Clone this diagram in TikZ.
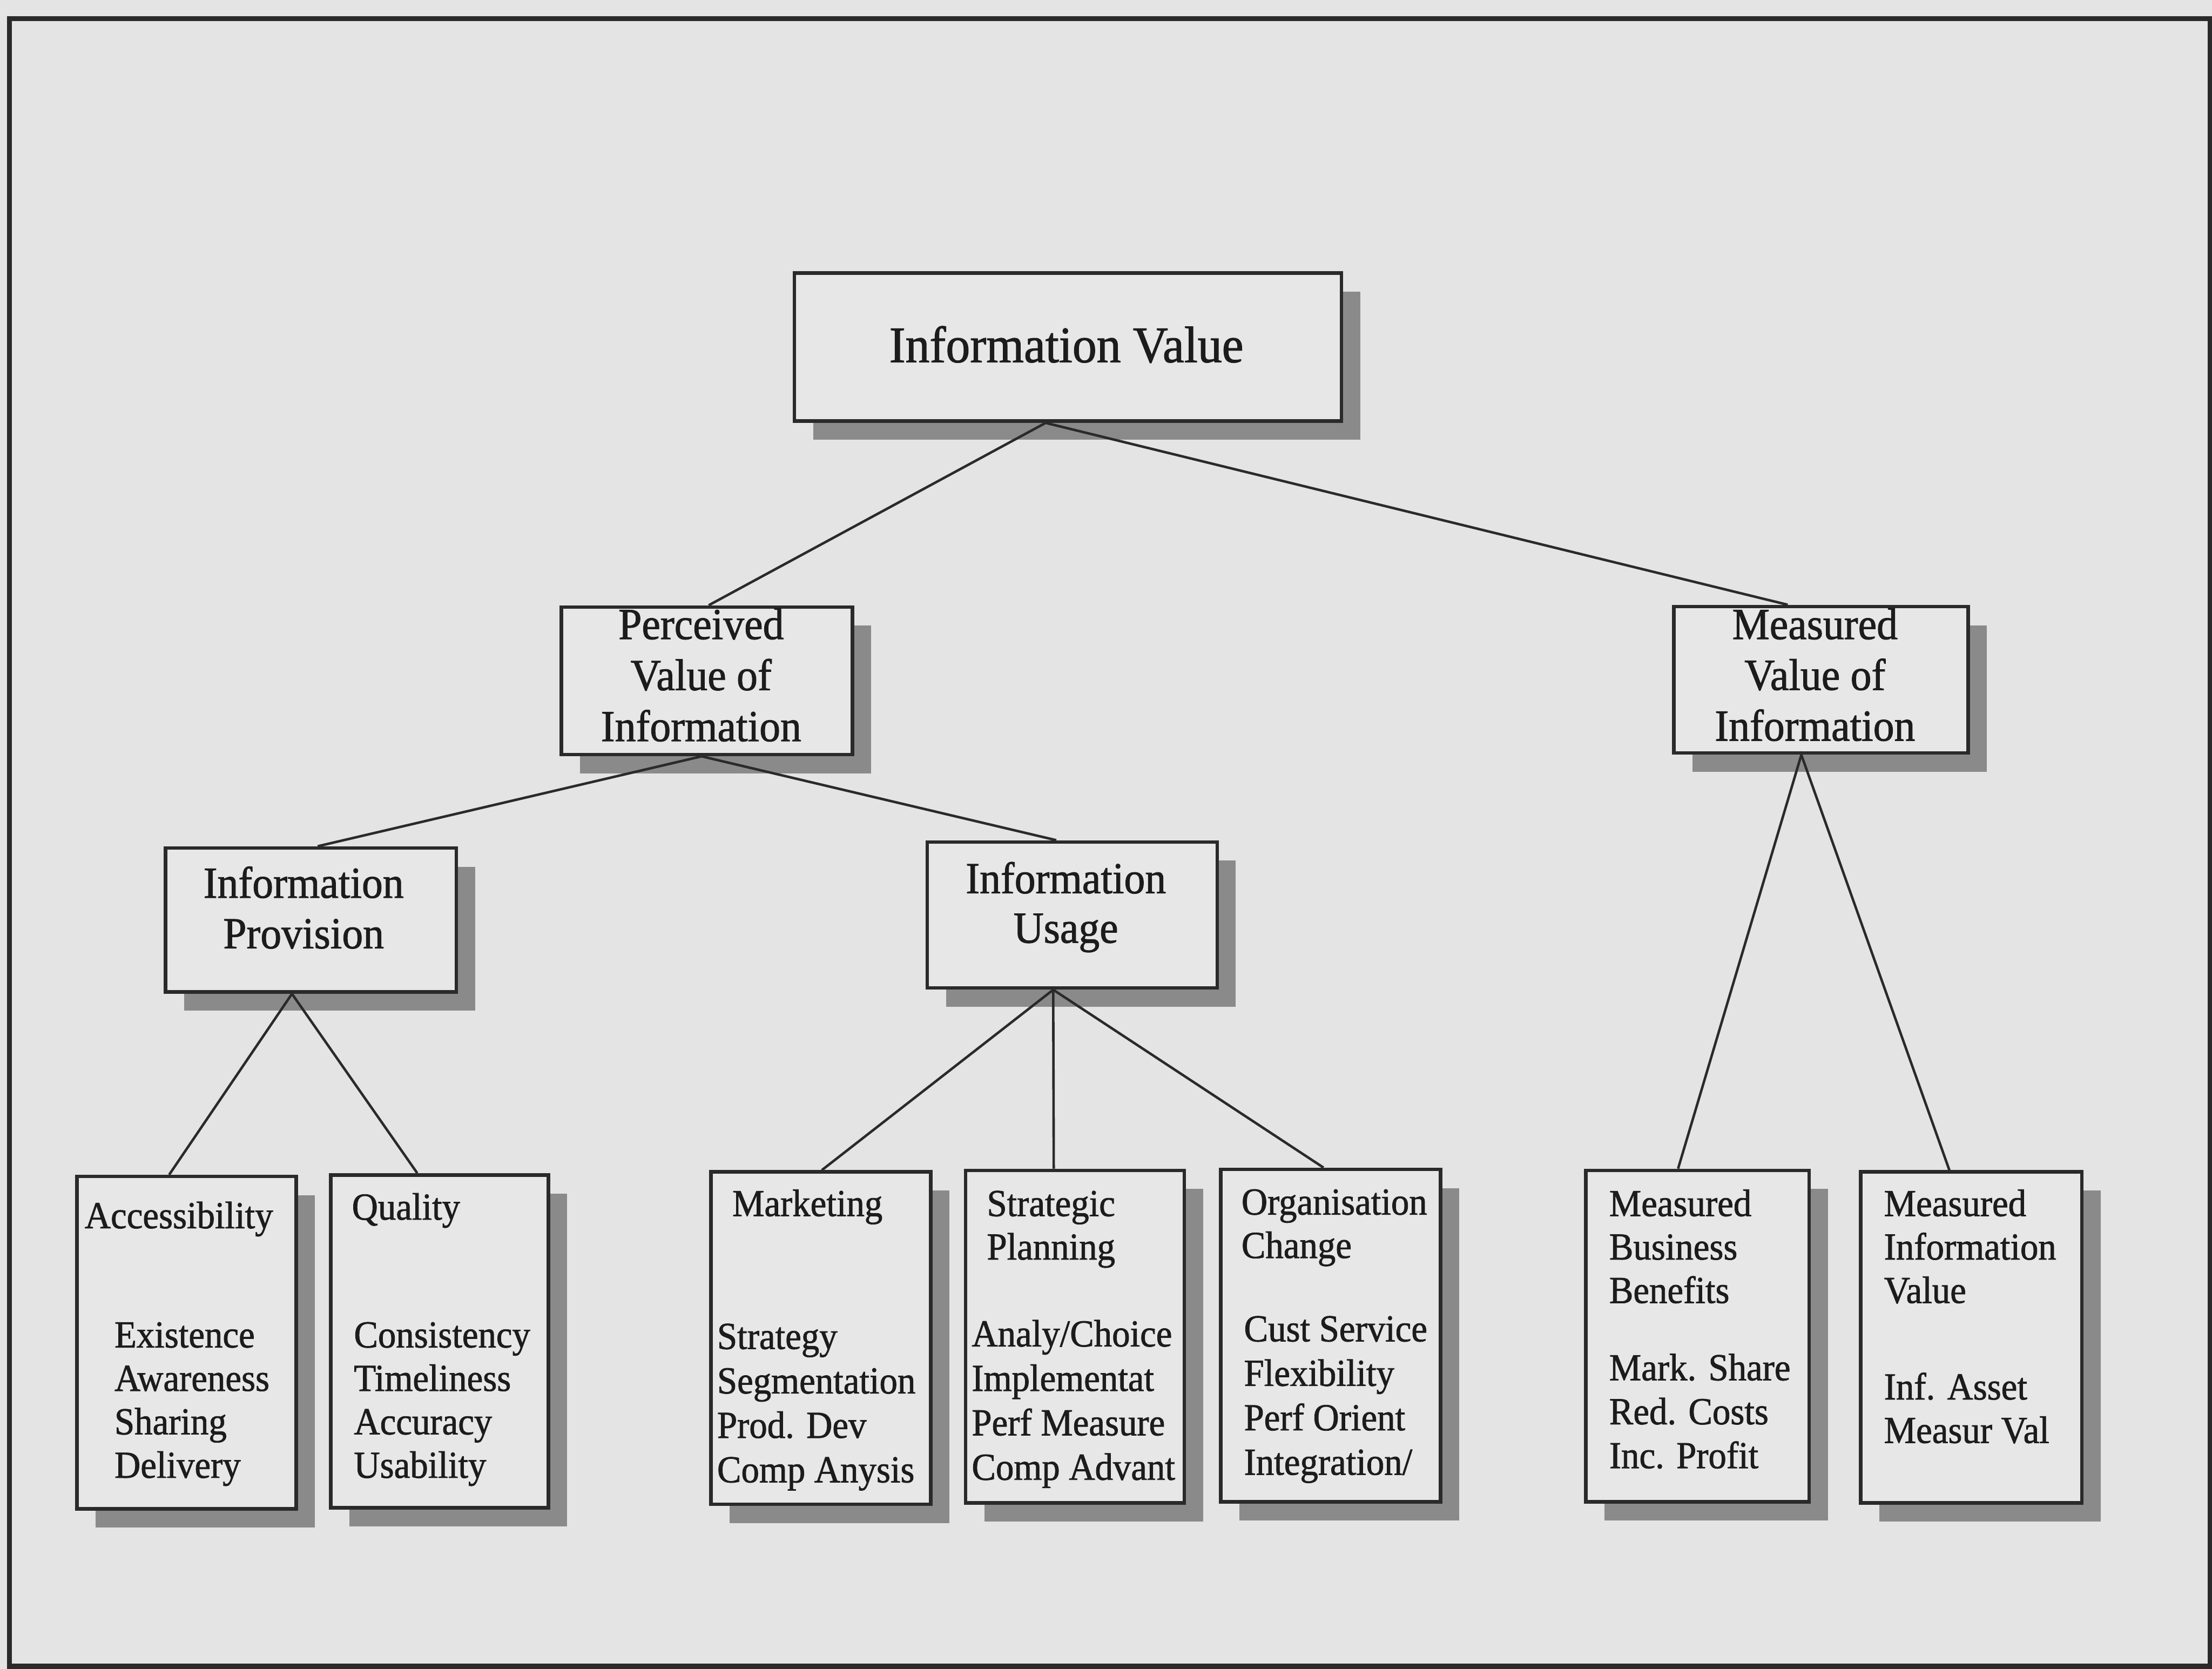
\documentclass[tikz,border=0pt]{standalone}
\usepackage{fontspec}
\setmainfont{Liberation Serif}[FakeStretch=0.945, FakeBold=1.2]
\usetikzlibrary{shadows}
\definecolor{paper}{HTML}{E4E4E4}
\definecolor{cardfill}{HTML}{E7E7E7}
\definecolor{shade}{HTML}{8A8A8A}
\definecolor{ink}{HTML}{2A2A2A}
\definecolor{inkt}{HTML}{1C1C1C}
% stack of text lines: prefix, style, x, first baseline (downwards), step, list
\newcommand\putlines[6]{%
  \foreach \lbl [count=\i] in {#6} {%
    \node[#2] (#1-\i) at (#3, {-(#4+(\i-1)*#5)}) {\lbl};}}
\begin{document}
\begin{tikzpicture}[x=1cm,y=1cm,
  card/.style={draw=ink, line width=2pt, fill=cardfill, inner sep=0pt, anchor=north west,
    drop shadow={shadow xshift=0.37cm, shadow yshift=-0.37cm, fill=shade, opacity=1}},
  link/.style={draw=ink, line width=1.4pt},
  toptext/.style={font=\fontsize{28.9}{34}\selectfont, text=inkt, inner sep=0pt, anchor=base},
  midtext/.style={font=\fontsize{25.0}{30}\selectfont, text=inkt, inner sep=0pt, anchor=base},
  smalltext/.style={font=\fontsize{21.5}{26}\selectfont, text=inkt, inner sep=0pt, anchor=base west}]
\fill[paper] (0,0) rectangle (43.79,-33.03);
\useasboundingbox (0,0) rectangle (43.79,-33.03);
\draw[ink, line width=2.85pt] (0.19,-0.37) rectangle (43.75,-32.98);

% boxes
\node[card, minimum width=10.83cm, minimum height=2.93cm] (iv) at (15.69,-5.37) {};
\node[card, minimum width=5.76cm, minimum height=2.92cm] (pv) at (11.08,-11.98) {};
\node[card, minimum width=5.83cm, minimum height=2.90cm] (mv) at (33.10,-11.97) {};
\node[card, minimum width=5.76cm, minimum height=2.85cm] (ip) at (3.24,-16.75) {};
\node[card, minimum width=5.74cm, minimum height=2.89cm] (iu) at (18.32,-16.63) {};
\node[card, minimum width=4.34cm, minimum height=6.58cm] (acc) at (1.49,-23.25) {};
\node[card, minimum width=4.31cm, minimum height=6.59cm] (qual) at (6.51,-23.22) {};
\node[card, minimum width=4.35cm, minimum height=6.58cm] (mkt) at (14.04,-23.16) {};
\node[card, minimum width=4.33cm, minimum height=6.58cm] (str) at (19.08,-23.13) {};
\node[card, minimum width=4.35cm, minimum height=6.58cm] (org) at (24.13,-23.11) {};
\node[card, minimum width=4.42cm, minimum height=6.56cm] (mbb) at (31.36,-23.13) {};
\node[card, minimum width=4.38cm, minimum height=6.55cm] (miv) at (36.80,-23.16) {};

% connector ends on the box edges
\coordinate (ivB) at ([xshift=5.01cm]iv.south west);
\coordinate (pvT) at ([xshift=2.95cm]pv.north west);
\coordinate (mvT) at ([xshift=2.29cm]mv.north west);
\coordinate (pvB) at ([xshift=2.81cm]pv.south west);
\coordinate (ipT) at ([xshift=3.05cm]ip.north west);
\coordinate (iuT) at ([xshift=2.59cm]iu.north west);
\coordinate (mvB) at ([xshift=2.56cm]mv.south west);
\coordinate (mbbT) at ([xshift=1.86cm]mbb.north west);
\coordinate (mivT) at ([xshift=1.79cm]miv.north west);
\coordinate (ipB) at ([xshift=2.54cm]ip.south west);
\coordinate (accT) at ([xshift=1.86cm]acc.north west);
\coordinate (qualT) at ([xshift=1.75cm]qual.north west);
\coordinate (iuB) at ([xshift=2.53cm]iu.south west);
\coordinate (mktT) at ([xshift=2.23cm]mkt.north west);
\coordinate (strT) at ([xshift=1.78cm]str.north west);
\coordinate (orgT) at ([xshift=2.07cm]org.north west);

% connectors
\draw[link] (pvT) -- (ivB) -- (mvT);
\draw[link] (ipT) -- (pvB) -- (iuT);
\draw[link] (mbbT) -- (mvB) -- (mivT);
\draw[link] (accT) -- (ipB) -- (qualT);
\draw[link] (mktT) -- (iuB) -- (orgT);
\draw[link] (iuB) -- (strT);

% labels
\putlines{ivt}{toptext}{21.11}{7.17}{0}{Information Value}
\putlines{pvt}{midtext}{13.88}{12.65}{1.01}{Perceived,Value of,Information}
\putlines{mvt}{midtext}{35.93}{12.65}{1.005}{Measured,Value of,Information}
\putlines{ipt}{midtext}{6.01}{17.77}{1.00}{Information,Provision}
\putlines{iut}{midtext}{21.10}{17.68}{0.98}{Information,Usage}

\putlines{acct}{smalltext}{1.67}{24.31}{0.86}{Accessibility}
\putlines{acci}{smalltext}{2.26}{26.67}{0.86}{Existence,Awareness,Sharing,Delivery}
\putlines{qualt}{smalltext}{6.96}{24.14}{0.86}{Quality}
\putlines{quali}{smalltext}{7.00}{26.67}{0.86}{Consistency,Timeliness,Accuracy,Usability}
\putlines{mktt}{smalltext}{14.49}{24.07}{0.86}{Marketing}
\putlines{mkti}{smalltext}{14.19}{26.70}{0.88}{Strategy,Segmentation,Prod. Dev,Comp Anysis}
\putlines{strt}{smalltext}{19.53}{24.07}{0.86}{Strategic,Planning}
\putlines{stri}{smalltext}{19.23}{26.65}{0.88}{Analy/Choice,Implementat,Perf Measure,Comp Advant}
\putlines{orgt}{smalltext}{24.57}{24.04}{0.86}{Organisation,Change}
\putlines{orgi}{smalltext}{24.62}{26.55}{0.88}{Cust Service,Flexibility,Perf Orient,Integration/}
\putlines{mbbt}{smalltext}{31.85}{24.07}{0.86}{Measured,Business,Benefits}
\putlines{mbbi}{smalltext}{31.85}{27.32}{0.87}{Mark. Share,Red. Costs,Inc. Profit}
\putlines{mivt}{smalltext}{37.29}{24.07}{0.86}{Measured,Information,Value}
\putlines{mivi}{smalltext}{37.29}{27.70}{0.86}{Inf. Asset,Measur Val}
\end{tikzpicture}
\end{document}
